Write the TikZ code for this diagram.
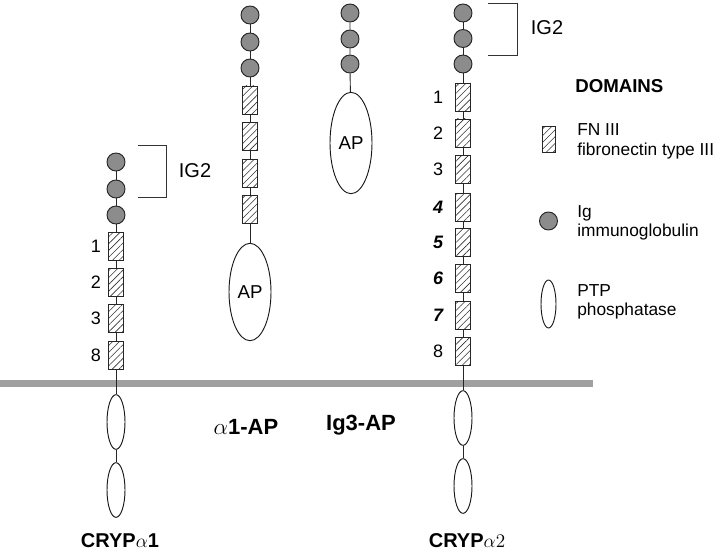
\documentclass[tikz,border=0pt]{standalone}
\usepackage{fontspec}
\setmainfont{Liberation Sans}
\usetikzlibrary{shapes.geometric,patterns.meta}
\definecolor{igfill}{RGB}{140,140,140}
\definecolor{membranegray}{RGB}{160,160,160}
\tikzset{
  igdom/.style={circle,draw=black!85,fill=igfill,line width=0.7pt,minimum size=13.5pt,inner sep=0pt},
  fndom/.style={rectangle,draw=black!85,line width=0.6pt,minimum width=11pt,minimum height=21pt,inner sep=0pt,
    pattern={Lines[angle=45,distance=3.6pt,line width=0.45pt]},pattern color=black!80},
  ptpdom/.style={ellipse,draw=black!90,line width=0.7pt,minimum width=13.5pt,minimum height=41pt,inner sep=0pt},
  apdom/.style={ellipse,draw=black!90,line width=0.7pt,minimum width=31.5pt,minimum height=73pt,inner sep=0pt,
    font=\fontsize{14}{16}\selectfont},
  numlab/.style={inner sep=0pt,font=\fontsize{13.5}{15}\selectfont},
  boldnum/.style={numlab,font=\fontsize{13.5}{15}\selectfont\bfseries\itshape},
  biglab/.style={inner sep=0pt,font=\fontsize{15}{18}\selectfont\bfseries},
  legtext/.style={anchor=west,align=left,inner sep=0pt,font=\fontsize{13}{14.6}\selectfont},
  bracket/.style={draw=black!80,line width=0.7pt},
  link/.style={draw=black!85,line width=0.7pt}
}
\begin{document}
\begin{tikzpicture}[x=0.75pt,y=0.75pt,yscale=-1,xscale=1]
    \useasboundingbox (0,0) rectangle (720,556);

    % Membrane
    \coordinate (memL) at (0,383.5);
    \coordinate (memR) at (593,383.5);
    \draw [membranegray,line width=5.3pt] (memL) -- (memR);

    % CRYPalpha1
    \foreach \i/\y in {1/162,2/189,3/215} \node[igdom] (aig\i) at (116,\y) {};
    \foreach \i/\y/\n in {1/246/1,2/282/2,3/318/3,4/355/8} {
      \node[fndom] (afn\i) at (116,\y) {};
      \node[numlab] (anum\i) at (96,\y) {\n};
    }
    \node[ptpdom] (aptp1) at (116,422) {};
    \node[ptpdom] (aptp2) at (116,490) {};
    \draw[link] (aig1) -- (aig2) -- (aig3) -- (afn1) -- (afn2) -- (afn3) -- (afn4) -- (aptp1) -- (aptp2);
    % IG2 bracket
    \coordinate (abr1) at (138,145);
    \coordinate (abr2) at (166,145);
    \coordinate (abr3) at (166,197);
    \coordinate (abr4) at (138,197);
    \draw[bracket] (abr1) -- (abr2) -- (abr3) -- (abr4);
    \node[inner sep=0pt,font=\fontsize{15}{18}\selectfont] (aigtwo) at (195,171) {IG2};
    % Text Node
    \node[biglab] (alab) at (120,541) {CRYP$\alpha$1};

    % alpha1-AP
    \foreach \i/\y in {1/15,2/42,3/68} \node[igdom] (big\i) at (250,\y) {};
    \foreach \i/\y in {1/100,2/136.5,3/173,4/209} \node[fndom] (bfn\i) at (250,\y) {};
    \node[apdom] (bap) at (250,292) {AP};
    \draw[link] (big1) -- (big2) -- (big3) -- (bfn1) -- (bfn2) -- (bfn3) -- (bfn4) -- (bap);
    % Text Node
    \node[biglab,font=\fontsize{16.5}{19}\selectfont\bfseries] (blab) at (246,427) {$\alpha$1-AP};

    % Ig3-AP
    \foreach \i/\y in {1/13,2/39,3/64} \node[igdom] (cig\i) at (350,\y) {};
    \node[apdom,minimum height=76pt] (cap) at (351,143) {AP};
    \draw[link] (cig1) -- (cig2) -- (cig3) -- (cap);
    % Text Node
    \node[biglab,font=\fontsize{16.5}{19}\selectfont\bfseries] (clab) at (361,425) {Ig3-AP};

    % CRYPalpha2
    \foreach \i/\y in {1/13,2/38.5,3/64} \node[igdom] (dig\i) at (463,\y) {};
    \foreach \i/\y in {1/97.5,2/133,3/169,4/207,5/242.5,6/278.5,7/315,8/351.5}
      \node[fndom] (dfn\i) at (463,\y) {};
    \foreach \i in {1,2,3,8} \node[numlab] (dnum\i) at ([xshift=-18.75pt]dfn\i.center) {\i};
    \foreach \i in {4,5,6,7} \node[boldnum] (dnum\i) at ([xshift=-18.75pt]dfn\i.center) {\i};
    \node[ptpdom] (dptp1) at (463,418) {};
    \node[ptpdom] (dptp2) at (463,486) {};
    \draw[link] (dig1) -- (dig2) -- (dig3) -- (dfn1) -- (dfn2) -- (dfn3) -- (dfn4) -- (dfn5) -- (dfn6) -- (dfn7) -- (dfn8) -- (dptp1) -- (dptp2);
    % IG2 bracket
    \coordinate (dbr1) at (488,3);
    \coordinate (dbr2) at (517,3);
    \coordinate (dbr3) at (517,55);
    \coordinate (dbr4) at (488,55);
    \draw[bracket] (dbr1) -- (dbr2) -- (dbr3) -- (dbr4);
    \node[inner sep=0pt,font=\fontsize{15}{18}\selectfont] (digtwo) at (547,28) {IG2};
    % Text Node
    \node[biglab] (dlab) at (467,541) {CRYP$\alpha2$};

    % Legend
    \node[inner sep=0pt,anchor=west,font=\fontsize{14}{16}\selectfont\bfseries] (domhead) at (575,86.5) {DOMAINS};
    \node[fndom,minimum width=9.75pt,minimum height=20pt] (legfn) at (548.5,139.5) {};
    \node[legtext] (legfntext) at (577,141.5) {FN III\\fibronectin type III};
    \node[igdom] (legig) at (548.5,221) {};
    \node[legtext] (legigtext) at (577,223) {Ig\\immunoglobulin};
    \node[ptpdom,minimum width=11.25pt,minimum height=36pt] (legptp) at (548.5,304) {};
    \node[legtext] (legptptext) at (577,302) {PTP\\phosphatase};
\end{tikzpicture}
\end{document}
